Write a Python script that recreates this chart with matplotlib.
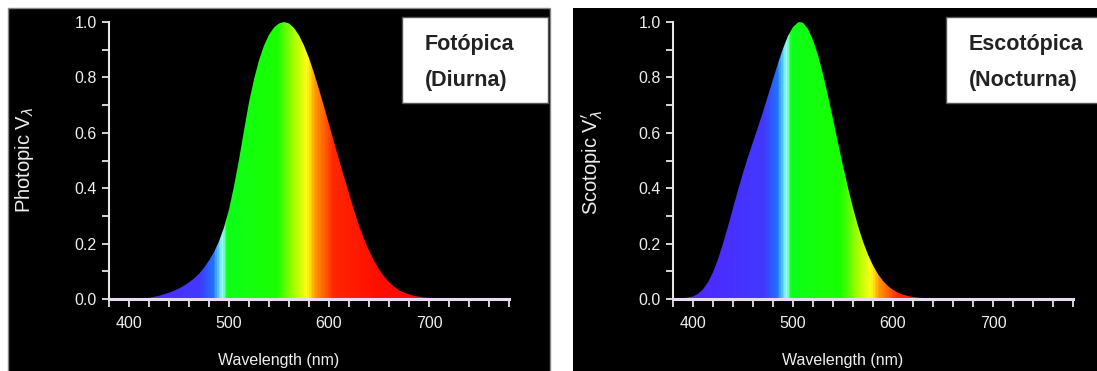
import numpy as np
import matplotlib
matplotlib.use("Agg")
import matplotlib.pyplot as plt
from matplotlib.colors import LinearSegmentedColormap
from matplotlib.patches import Rectangle

plt.rcParams['font.family'] = ['Liberation Sans', 'DejaVu Sans']

# curva fotópica (diurna), V(lambda)
wl_phot = [380, 390, 400, 410, 420, 430, 435, 440, 445, 450, 455, 460, 465, 470, 475, 480,
           485, 490, 495, 500, 505, 510, 515, 520, 525, 530, 535, 540, 545, 550, 555, 560,
           565, 570, 575, 580, 585, 590, 595, 600, 605, 610, 615, 620, 625, 630, 635, 640,
           645, 650, 655, 660, 665, 670, 675, 680, 685, 690, 695, 700, 710, 720, 740, 780]
v_phot = [0.0000, 0.0001, 0.0004, 0.0012, 0.0040, 0.0116, 0.0168, 0.0230, 0.0298, 0.0380,
          0.0480, 0.0600, 0.0739, 0.0910, 0.1126, 0.1390, 0.1693, 0.2080, 0.2586, 0.3230,
          0.4073, 0.5030, 0.6082, 0.7100, 0.7932, 0.8620, 0.9149, 0.9540, 0.9803, 0.9950,
          1.0000, 0.9950, 0.9786, 0.9520, 0.9154, 0.8700, 0.8163, 0.7570, 0.6949, 0.6310,
          0.5668, 0.5030, 0.4412, 0.3810, 0.3210, 0.2650, 0.2170, 0.1750, 0.1382, 0.1070,
          0.0816, 0.0610, 0.0446, 0.0320, 0.0232, 0.0170, 0.0119, 0.0082, 0.0057, 0.0041,
          0.0021, 0.0010, 0.0002, 0.0000]

# curva escotópica (nocturna), V'(lambda)
wl_scot = [380, 390, 400, 405, 410, 415, 420, 425, 430, 435, 440, 445, 450, 455, 460, 465,
           470, 475, 480, 485, 490, 495, 500, 505, 507, 510, 515, 520, 525, 530, 535, 540,
           545, 550, 555, 560, 565, 570, 575, 580, 585, 590, 595, 600, 605, 610, 615, 620,
           625, 630, 640, 650, 660, 680, 700, 780]
v_scot = [0.0006, 0.0022, 0.0093, 0.0185, 0.0348, 0.0604, 0.0966, 0.1436, 0.1998, 0.2625,
          0.3281, 0.3931, 0.4550, 0.5129, 0.5670, 0.6205, 0.6760, 0.7340, 0.7930, 0.8510,
          0.9040, 0.9500, 0.9820, 0.9985, 1.0000, 0.9970, 0.9750, 0.9350, 0.8800, 0.8110,
          0.7330, 0.6500, 0.5640, 0.4810, 0.4020, 0.3288, 0.2639, 0.2076, 0.1602, 0.1212,
          0.0899, 0.0655, 0.0469, 0.0332, 0.0231, 0.0159, 0.0109, 0.0074, 0.0050, 0.0033,
          0.0015, 0.0007, 0.0003, 0.0001, 0.0000, 0.0000]

x_ticks = [400, 500, 600, 700]
y_ticks = [0.0, 0.2, 0.4, 0.6, 0.8, 1.0]

# colores del espectro visible
spec_pts = [(380, (0.32, 0.14, 1.0)), (470, (0.26, 0.22, 1.0)), (484, (0.12, 0.45, 1.0)),
            (490, (0.40, 0.88, 1.0)), (493, (0.60, 1.0, 0.95)), (498, (0.05, 1.0, 0.10)),
            (548, (0.10, 1.0, 0.0)), (566, (0.70, 1.0, 0.0)), (578, (1.0, 1.0, 0.1)),
            (586, (1.0, 0.6, 0.0)), (605, (1.0, 0.15, 0.0)), (650, (1.0, 0.05, 0.0)),
            (780, (1.0, 0.0, 0.15))]
spec_cmap = LinearSegmentedColormap.from_list(
    'spec', [((w - 380) / 400, c) for w, c in spec_pts])

W, H = 1097, 371
fig = plt.figure(figsize=(W / 100, H / 100), dpi=100, facecolor='white')


def fig_rect(x0, x1, y0, y1, **kw):
    r = Rectangle((x0 / W, 1 - y1 / H), (x1 - x0) / W, (y1 - y0) / H,
                  transform=fig.transFigure, **kw)
    fig.patches.append(r)
    return r


def draw_panel(px0, wl, v, ylabel, ylab_x, ylab_y, xlab_x, box, lines):
    ax = fig.add_axes([px0 / W, 1 - 299 / H, 400 / W, (299 - 16.5) / H])
    ax.set_facecolor('none')
    ax.set_zorder(1)
    ax.set_xlim(380, 780)
    ax.set_ylim(0, 1.02)

    poly = ax.fill_between(wl, v, 0, color='none', lw=0)
    grad = np.linspace(0, 1, 400).reshape(1, -1)
    im = ax.imshow(grad, cmap=spec_cmap, extent=[380, 780, 0, 1.02],
                   aspect='auto', origin='lower', interpolation='bilinear')
    im.set_clip_path(poly.get_paths()[0], transform=ax.transData)

    for s in ['top', 'right']:
        ax.spines[s].set_visible(False)
    ax.spines['left'].set_bounds(0, 1)
    ax.spines['left'].set_color('#e6e6e6')
    ax.spines['left'].set_linewidth(1.5)
    ax.spines['bottom'].set_color('#eadcf0')
    ax.spines['bottom'].set_linewidth(2.2)

    ax.set_xticks(x_ticks)
    ax.set_xticks(np.arange(380, 781, 20), minor=True)
    ax.set_yticks(y_ticks)
    ax.set_yticklabels([f'{t:.1f}' for t in y_ticks])
    ax.set_yticks(np.arange(0.1, 1.0, 0.2), minor=True)
    ax.tick_params(axis='x', which='both', direction='out', length=6, width=1.3,
                   color='#e6e6e6', labelcolor='#eeeeee', labelsize=11.5, pad=6)
    ax.tick_params(axis='y', which='both', direction='out', length=5, width=1.3,
                   color='#e6e6e6', labelcolor='#eeeeee', labelsize=11.5, pad=4)

    fig.text(xlab_x / W, 1 - 360 / H, 'Wavelength (nm)', color='#eeeeee',
             fontsize=11.5, ha='center', va='center')
    fig.text(ylab_x / W, 1 - ylab_y / H, ylabel, color='#eeeeee', fontsize=14.5,
             rotation=90, ha='center', va='center')

    fig_rect(*box, facecolor='white', edgecolor='#555555', lw=1, zorder=5)
    for txt, base in zip(lines, [50, 86]):
        fig.text((box[0] + 23) / W, 1 - base / H, txt, color='#222222', zorder=6,
                 fontsize=15.5, fontweight='bold', ha='left', va='baseline')
    return ax


# fondos negros de los paneles
fig_rect(8, 550, 8, 372, facecolor='black', edgecolor='#888888', lw=1, zorder=-5)
fig_rect(573, 1098, 8, 372, facecolor='black', edgecolor='none', zorder=-5)

draw_panel(109, wl_phot, v_phot, r'Photopic V$_\lambda$', 25, 160, 279,
           (402, 548, 17, 103), ['Fotópica', '(Diurna)'])
draw_panel(673, wl_scot, v_scot, r'Scotopic V$_{\lambda}^{\prime}$', 592, 162, 843,
           (946, 1100, 17, 103), ['Escotópica', '(Nocturna)'])

fig.savefig('out.png', dpi=100, facecolor='white')
